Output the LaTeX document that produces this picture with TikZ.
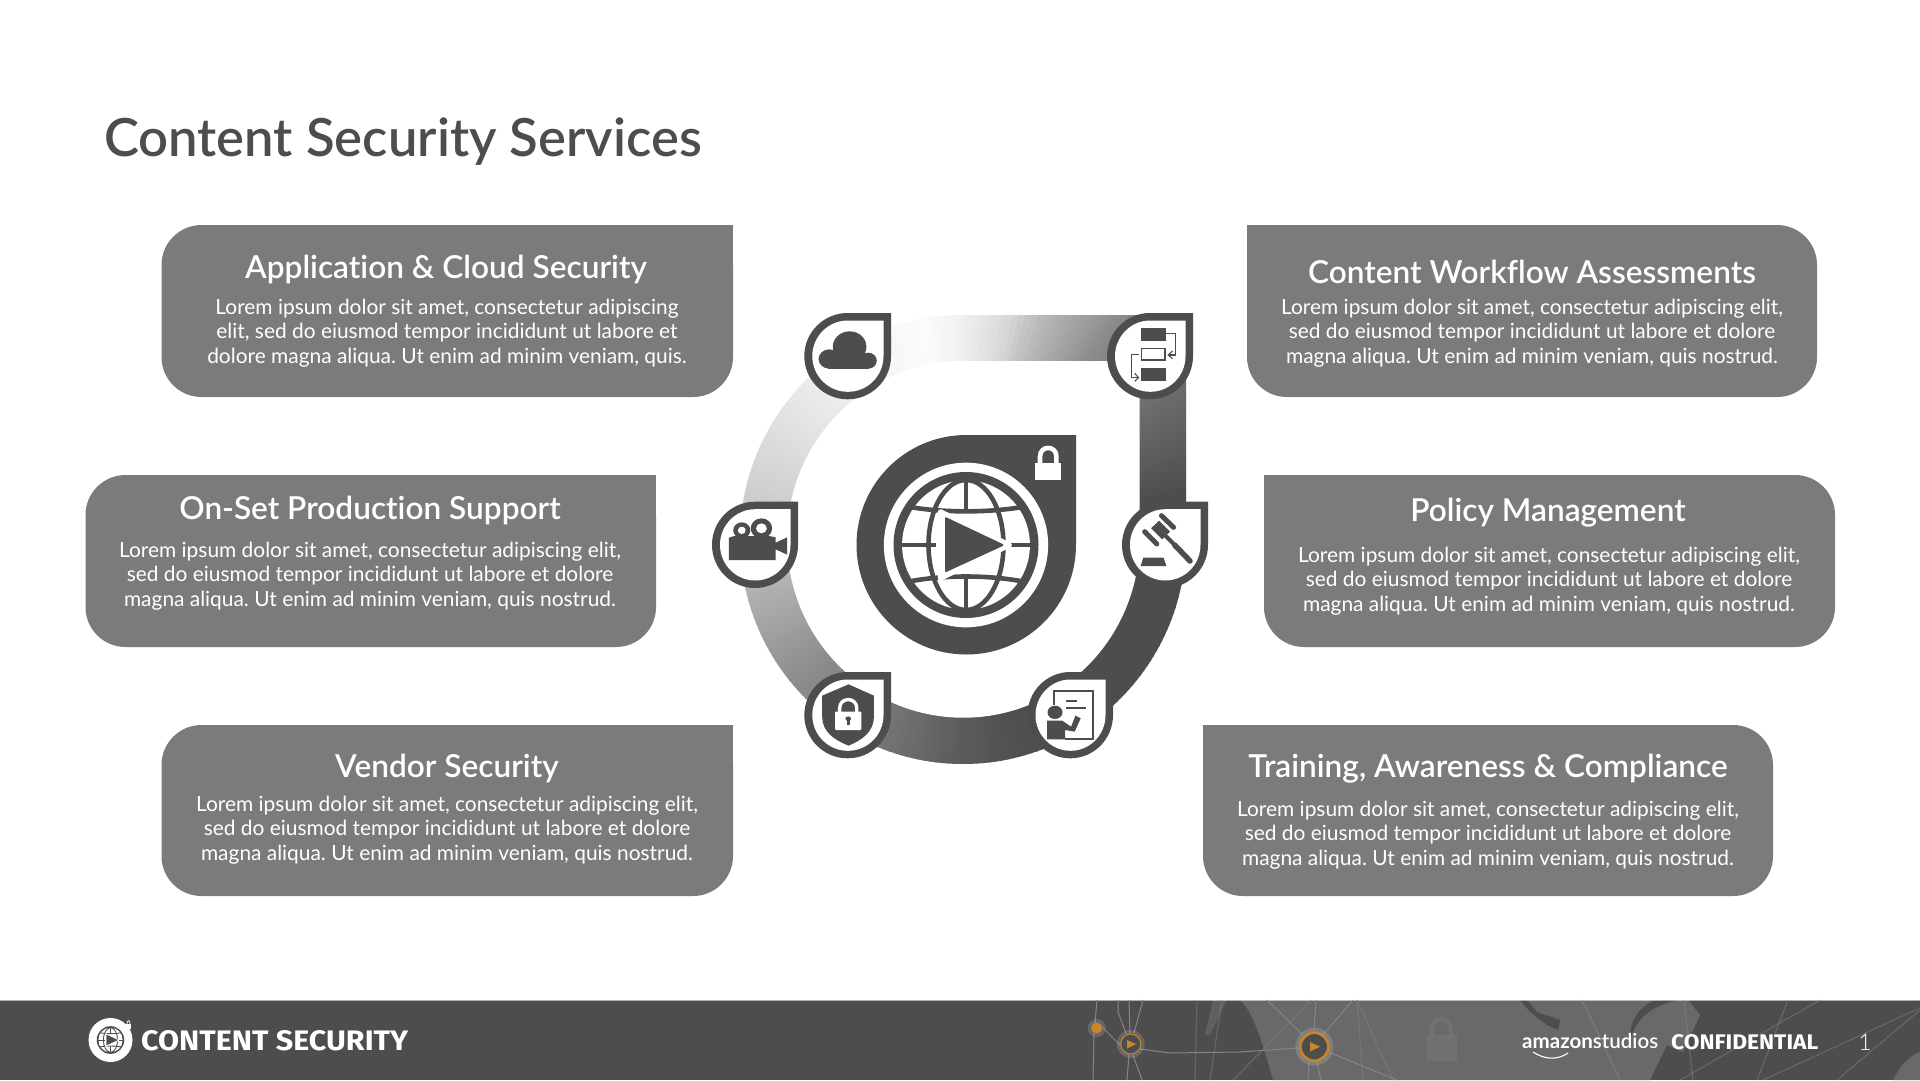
\documentclass[tikz,border=0pt]{standalone}
\usepackage{fontspec}
\usepackage{graphicx}
\setmainfont{Lato}[Ligatures=NoCommon]
\newfontfamily\latomed{Lato Medium}[Ligatures=NoCommon]
\newfontfamily\latosemi{Lato Semibold}[Ligatures=NoCommon]
\newfontfamily\latolight{Lato Light}
\newfontfamily\firab{Fira Sans}[Scale=1.0]
\definecolor{dk}{HTML}{4D4D4D}
\definecolor{cardgrey}{HTML}{7B7B7D}
\definecolor{titlegrey}{HTML}{4D4D4D}
\definecolor{mapl}{HTML}{696969}
\definecolor{mapline}{HTML}{858585}
\definecolor{amber}{HTML}{C8862B}
\newcommand\settear[4]{%
  \pgfmathsetmacro\cx{(#1+#3)/2}\pgfmathsetmacro\cy{(#2+#4)/2}%
  \pgfmathsetmacro\kx{0.5523*(#3-#1)/2}\pgfmathsetmacro\ky{0.5523*(#4-#2)/2}%
  \edef\tearp{(#3,#2) -- (#3,\cy) .. controls (#3,\cy+\ky) and (\cx+\kx,#4) .. (\cx,#4) .. controls (\cx-\kx,#4) and (#1,\cy+\ky) .. (#1,\cy) .. controls (#1,\cy-\ky) and (\cx-\kx,#2) .. (\cx,#2) -- cycle}}
\newcommand\badge[4]{%
  \settear{#1}{#2}{#3}{#4}\fill[dk] \tearp;
  \pgfmathsetmacro\la{#1+8}\pgfmathsetmacro\ta{#2+7.5}\pgfmathsetmacro\ra{#3-7.5}\pgfmathsetmacro\ba{#4-7.5}%
  \settear{\la}{\ta}{\ra}{\ba}\fill[white] \tearp;}
\newcommand\cardL[4]{\fill[cardgrey,rounded corners=40pt] (#1,#2) rectangle (#3,#4);
  \fill[cardgrey] ({#3-45},#2) rectangle (#3,{#2+45});}
\newcommand\cardR[4]{\fill[cardgrey,rounded corners=40pt] (#1,#2) rectangle (#3,#4);
  \fill[cardgrey] (#1,#2) rectangle ({#1+45},{#2+45});}
% globe logo: colour A, colour B, centre x, centre y, scale
\newcommand\globelogo[5]{%
  \begin{scope}[xshift=#3pt,yshift=-#4pt,x=#5*0.35714pt,y=-#5*0.33333pt,line width=#5*4.6pt]
    \fill[#1] (0,0) ellipse[x radius=230,y radius=247];
    \fill[#2] (0,0) ellipse[x radius=203,y radius=219];
    \fill[#1] (0,0) ellipse[x radius=179,y radius=194];
    \draw[#2] (0,0) ellipse[x radius=105,y radius=195];
    \draw[#2] (0,-195) -- (0,-100) (0,100) -- (0,195) (-180,0) -- (-85,0) (125,0) -- (180,0);
    \draw[#2] (-152,-113) .. controls (-60,-97) and (60,-97) .. (152,-113);
    \draw[#2] (-152,108) .. controls (-60,90) and (60,90) .. (152,108);
    \fill[#1,draw=#1,line width=#5*5pt,line join=round] (-72,-100) -- (122,0) -- (-72,100) -- cycle;
    \fill[#2,draw=#2,line width=#5*2pt,line join=round] (-56,-80) -- (102,0) -- (-56,78) -- cycle;
  \end{scope}}
\tikzset{
  cardhead/.style={text=white,font=\latosemi\fontsize{31.6}{36}\selectfont,inner sep=0pt,anchor=center},
  cardbody/.style={text=white,font=\frenchspacing\fontsize{20.9}{24.4}\selectfont,align=center,inner sep=0pt,anchor=center},
  zoomcs/.style={xshift=680pt,yshift=-280pt,x=0.35714pt,y=-0.33333pt},
  netline/.style={draw=mapline,line width=1pt},
  faintline/.style={draw=mapline,opacity=.45,line width=1.2pt},
}
\begin{document}
\begin{tikzpicture}[x=1pt,y=-1pt]
\useasboundingbox (0,0) rectangle (1920,1080);
\fill[white] (0,0) rectangle (1920,1080);

% title
\node[anchor=base west,inner sep=0pt,text=titlegrey,font=\latosemi\fontsize{52.6}{56}\selectfont] (title) at (104,156) {Content Security Services};

% cards
\cardL{161.5}{225}{733}{397}
\cardL{85.5}{475}{656}{647}
\cardL{161.5}{725}{733}{896}
\cardR{1247}{225}{1817}{397}
\cardR{1264}{475}{1835}{647}
\cardR{1203}{725}{1773}{896}

\node[cardhead] (h1) at (446,269) {Application \& Cloud Security};
\node[cardbody] (b1) at (447,333) {Lorem ipsum dolor sit amet, consectetur adipiscing\\elit, sed do eiusmod tempor incididunt ut labore et\\dolore magna aliqua. Ut enim ad minim veniam, quis.};
\node[cardhead] (h2) at (370,510) {On-Set Production Support};
\node[cardbody] (b2) at (370,576) {Lorem ipsum dolor sit amet, consectetur adipiscing elit,\\sed do eiusmod tempor incididunt ut labore et dolore\\magna aliqua. Ut enim ad minim veniam, quis nostrud.};
\node[cardhead] (h3) at (447,768) {Vendor Security};
\node[cardbody] (b3) at (447,830) {Lorem ipsum dolor sit amet, consectetur adipiscing elit,\\sed do eiusmod tempor incididunt ut labore et dolore\\magna aliqua. Ut enim ad minim veniam, quis nostrud.};
\node[cardhead] (h4) at (1532,272) {Content Workflow Assessments};
\node[cardbody] (b4) at (1532,333) {Lorem ipsum dolor sit amet, consectetur adipiscing elit,\\sed do eiusmod tempor incididunt ut labore et dolore\\magna aliqua. Ut enim ad minim veniam, quis nostrud.};
\node[cardhead] (h5) at (1548,513) {Policy Management};
\node[cardbody] (b5) at (1549,581) {Lorem ipsum dolor sit amet, consectetur adipiscing elit,\\sed do eiusmod tempor incididunt ut labore et dolore\\magna aliqua. Ut enim ad minim veniam, quis nostrud.};
\node[cardhead] (h6) at (1488,769) {Training, Awareness \& Compliance};
\node[cardbody] (b6) at (1488,835) {Lorem ipsum dolor sit amet, consectetur adipiscing elit,\\sed do eiusmod tempor incididunt ut labore et dolore\\magna aliqua. Ut enim ad minim veniam, quis nostrud.};

% gradient band
\begin{scope}
  \settear{740}{315}{1186}{764}
  \clip \tearp;
  \foreach \aa/\va/\ab/\vb in {12/.302/34/.416,34/.416/55/.545,55/.545/61/.62,61/.62/70/.72,70/.72/79/.85,79/.85/90/.94,90/.94/100/.985,100/.985/120/.955,120/.955/142/.90,142/.90/166/.815,166/.815/180/.74,180/.74/194/.69,194/.69/222/.545,222/.545/252/.44,252/.44/269/.36,269/.36/286/.31,286/.31/300/.302,300/.302/372/.302}{
    \pgfmathtruncatemacro\n{max(1,(\ab-\aa)/1.5)}
    \foreach \k in {1,...,\n}{
      \pgfmathsetmacro\g{\va+(\vb-\va)*(\k-.5)/\n}
      \pgfmathsetmacro\s{\aa+(\ab-\aa)*(\k-1)/\n}
      \pgfmathsetmacro\e{\aa+(\ab-\aa)*\k/\n+0.4}
      \definecolor{wc}{gray}{\g}
      \fill[wc] (963,540) -- ({963+400*cos(\s)},{540-400*sin(\s)}) -- ({963+400*cos(\e)},{540-400*sin(\e)}) -- cycle;
    }
  }
\end{scope}
\settear{787}{361}{1139.6}{717.7}
\fill[white] \tearp;

% centre logo
\settear{856.5}{435}{1076}{654.5}
\fill[dk] \tearp;
\globelogo{white}{dk}{966}{545}{1}
\begin{scope}[zoomcs]
  \fill[white] (995,550) rectangle (1066,600);
  \draw[white,line width=4.6pt] (1008,555) -- (1008,530) .. controls (1008,495) and (1054,495) .. (1054,530) -- (1054,555);
\end{scope}

% badges
\badge{804.3}{313}{891}{399.3}
\badge{1107}{313}{1193}{399.3}
\badge{1122}{501.7}{1208}{588}
\badge{712}{501.7}{798}{588}
\badge{804.3}{672}{891}{758.3}
\badge{1027.5}{672}{1113}{758.3}

\begin{scope}[zoomcs]
  % cloud
  \fill[dk] (418,237) ellipse[x radius=30,y radius=29];
  \fill[dk] (475,200) ellipse[x radius=47,y radius=46];
  \fill[dk] (527,242) ellipse[x radius=24,y radius=24];
  \fill[dk] (415,225) rectangle (530,266);
  % workflow
  \fill[dk] (1290,143) rectangle (1361,183);
  \fill[dk] (1290,264) rectangle (1361,303);
  \draw[dk,line width=1.5pt] (1292,206) rectangle (1358,240);
  \draw[dk,line width=1.1pt] (1361,160) -- (1387,160) -- (1387,225) -- (1367,225);
  \draw[dk,line width=1.1pt] (1379,213) -- (1367,225) -- (1379,236);
  \draw[dk,line width=1.1pt] (1285,224) -- (1263,224) -- (1263,293) -- (1284,293);
  \draw[dk,line width=1.1pt] (1273,280) -- (1284,293) -- (1273,304);
  % gavel
  \fill[dk] (1319,745) -- (1341,722) -- (1372,755) -- (1350,778) -- cycle;
  \draw[dk,line width=5pt,line cap=round] (1348,707) -- (1382,742);
  \draw[dk,line width=5pt,line cap=round] (1301,755) -- (1335,792);
  \draw[dk,line width=4pt] (1360,768) -- (1385,795);
  \draw[dk,line width=5.5pt,line cap=round] (1385,795) -- (1428,843);
  \fill[dk] (1297,833) -- (1354,833) -- (1362,858) -- (1290,858) -- cycle;
  % camera
  \fill[dk] (173,751) ellipse[x radius=24,y radius=24];
  \fill[white] (173,751) ellipse[x radius=11,y radius=11];
  \fill[dk] (228,745) ellipse[x radius=30,y radius=30];
  \fill[white] (228,745) ellipse[x radius=15,y radius=15];
  \fill[dk] (137,773) -- (152,768) -- (250,768) -- (268,772) -- (268,788) -- (300,772) -- (300,824) -- (268,808) -- (268,840) -- (137,840) -- cycle;
  % shield
  \fill[dk] (472,1213) -- (543,1247) -- (543,1310) .. controls (543,1355) and (510,1380) .. (472,1397) .. controls (432,1380) and (398,1355) .. (398,1310) -- (398,1247) -- cycle;
  \fill[white,rounded corners=1pt] (434,1295) rectangle (508,1350);
  \draw[white,line width=3.4pt] (447,1300) -- (447,1285) .. controls (447,1250) and (495,1250) .. (495,1285) -- (495,1300);
  \fill[dk] (471,1316) ellipse[x radius=8,y radius=7];
  \fill[dk] (467,1316) rectangle (475,1336);
  % training
  \draw[dk,line width=2pt] (1047,1275) -- (1047,1233) -- (1155,1233) -- (1155,1377) -- (1078,1377);
  \draw[dk,line width=2pt] (1082,1262) -- (1112,1262) (1082,1285) -- (1137,1285);
  \fill[dk] (1050,1297) ellipse[x radius=21,y radius=20];
  \fill[dk] (1028,1322) -- (1070,1322) -- (1095,1340) -- (1107,1307) -- (1122,1315) -- (1105,1355) -- (1078,1350) -- (1078,1378) -- (1028,1378) -- cycle;
\end{scope}

% footer
\fill[dk] (0,1000) rectangle (1920,1080);
\fill[mapl] (1240,1000) .. controls (1252,1010) and (1262,1040) .. (1273,1080) -- (1650,1080) -- (1667,1045) -- (1683,1052) -- (1700,1015) -- (1688,1000) -- cycle;
\fill[mapl,opacity=.7] (1205,1035) -- (1213,1000) -- (1227,1000) -- (1210,1035) -- cycle;
\fill[dk] (1630,1042) .. controls (1634,1020) and (1650,1006) .. (1678,1000) -- (1655,1000) .. controls (1640,1006) and (1628,1022) .. (1630,1042) -- cycle;
\fill[dk] (1527,1000) -- (1537,1012) -- (1560,1020) -- (1558,1030) -- (1547,1025) -- (1530,1012) -- (1520,1000) -- cycle;
\fill[mapl] (1920,1052) .. controls (1905,1058) and (1898,1070) .. (1893,1080) -- (1920,1080) -- cycle;
\draw[white,opacity=.55,line width=1pt] (0,1000) -- (1920,1000);
\foreach \pa/\pb in {1312/1233,1357/1363,1357/1393,1197/1195,1222/1210}{
  \draw[faintline] (\pa,1000) -- (\pb,1080);}
\draw[faintline,line width=2pt] (1582,1000) -- (1620,1080);
\draw[faintline] (1684,1000) -- (1693,1080);
\draw[faintline] (1788,1000) -- (1757,1080);
\draw[faintline] (1920,1010) -- (1837,1080);
\draw[faintline] (1820,1000) -- (1680,1080);
\draw[faintline] (1920,1008) -- (1763,1080);
\fill[mapline,opacity=.3,rounded corners=1pt] (1426,1035) rectangle (1457,1061);
\draw[mapline,opacity=.3,line width=4pt] (1432,1036) -- (1432,1030) .. controls (1432,1015) and (1451,1015) .. (1451,1030) -- (1451,1036);
\draw[netline] (1097,1000) -- (1095,1023) (1094,1033) -- (1093,1080);
\draw[netline] (1103,1028) -- (1121,1046);
\draw[netline] (1118,1000) -- (1118,1012) -- (1126,1033);
\draw[netline] (1129,1000) -- (1130,1033);
\draw[netline] (1143,1000) -- (1134,1033);
\draw[netline] (1129,1055) -- (1127,1080) (1133,1055) -- (1142,1080);
\draw[netline] (1140,1049) -- (1170,1053) -- (1240,1052) -- (1298,1048);
\draw[netline] (1267,1000) -- (1303,1035);
\draw[netline] (1316,1000) -- (1314,1030);
\draw[netline] (1353,1000) -- (1323,1035);
\draw[netline] (1328,1052) -- (1397,1080);
\draw[netline] (1309,1062) -- (1308,1080) (1317,1062) -- (1321,1080);
\fill[white,opacity=.15] (1096.7,1028) circle[radius=9];
\fill[amber] (1096.7,1028) circle[radius=5.5];
\fill[white,opacity=.15] (1130.7,1044) circle[radius=14];
\fill[dk] (1130.7,1044) circle[radius=10];
\draw[amber,line width=1pt] (1130.7,1044) circle[radius=10];
\fill[amber] (1127,1040) -- (1136,1044) -- (1127,1048.5) -- cycle;
\fill[white,opacity=.15] (1314.3,1046.7) circle[radius=19];
\fill[dk] (1314.3,1046.7) circle[radius=14];
\draw[amber,line width=2.6pt] (1314.3,1046.7) circle[radius=14];
\fill[amber] (1310,1042) -- (1320,1046.7) -- (1310,1051.5) -- cycle;

% footer left
\fill[white] (110.5,1040) circle[radius=22];
\globelogo{white}{dk}{110.5}{1040}{0.19}
\fill[white] (126,1024) rectangle (131,1029);
\draw[white,line width=.7pt] (127,1024) .. controls (127,1019.5) and (130,1019.5) .. (130,1024);
\node[anchor=base west,inner sep=0pt,text=white] (brand) at (141,1050) {\resizebox{267pt}{20pt}{\firab\bfseries CONTENT SECURITY}};

% footer right
\node[anchor=base west,inner sep=0pt,text=white] (amz) at (1522,1048) {\resizebox{136pt}{!}{\bfseries amazon\latolight studios}};
\draw[white,line width=1.1pt] (1533,1052) .. controls (1545,1060) and (1558,1060) .. (1568,1053);
\node[anchor=base west,inner sep=0pt,text=white] (conf) at (1671,1049) {\resizebox{147pt}{15pt}{\firab\bfseries CONFIDENTIAL}};
\node[anchor=base,inner sep=0pt,text=white,font=\latolight\fontsize{23}{26}\selectfont] (pg) at (1865,1050) {1};
\end{tikzpicture}
\end{document}
